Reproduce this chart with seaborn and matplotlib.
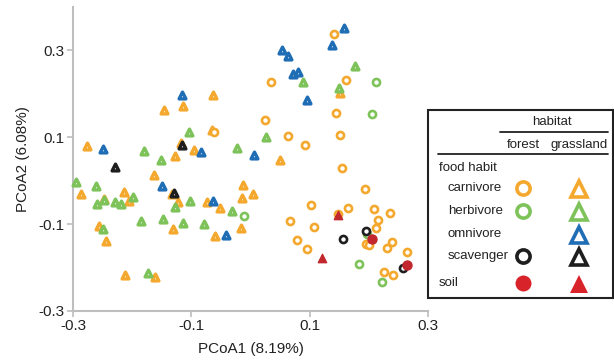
import matplotlib
matplotlib.use("Agg")
import matplotlib.pyplot as plt
import seaborn as sns
import numpy as np
from matplotlib.patches import Rectangle
from matplotlib.lines import Line2D

sns.set_style("white")
plt.rcParams['font.family'] = ['Liberation Sans', 'DejaVu Sans']

# ---------------- data ----------------
# grassland (triangles)
carn_grass_x = [-0.063, -0.146, -0.114, -0.065, -0.277, -0.118, -0.095, -0.127, -0.164, -0.287,
                -0.132, -0.013, -0.214, -0.205, -0.247, -0.122, -0.074, -0.051, -0.014, 0.004,
                -0.131, -0.256, -0.244, -0.060, -0.016, -0.212, -0.162, 0.050, 0.151]
carn_grass_y = [0.197, 0.163, 0.172, 0.116, 0.080, 0.086, 0.070, 0.057, 0.014, -0.030,
                -0.032, -0.009, -0.026, -0.047, -0.042, -0.050, -0.050, -0.063, -0.040, -0.030,
                -0.112, -0.104, -0.138, -0.128, -0.109, -0.218, -0.222, 0.048, 0.202]

herb_grass_x = [-0.104, -0.180, -0.023, -0.151, -0.295, -0.262, -0.198, -0.248, -0.259, -0.229,
                -0.219, -0.127, -0.103, -0.032, -0.185, -0.148, -0.114, -0.079, -0.249, -0.173,
                0.176, 0.089, 0.149, 0.026]
herb_grass_y = [0.112, 0.069, 0.075, 0.047, -0.003, -0.013, -0.038, -0.044, -0.053, -0.050,
                -0.053, -0.061, -0.047, -0.069, -0.093, -0.089, -0.098, -0.099, -0.112, -0.212,
                0.263, 0.226, 0.214, 0.100]

omni_grass_x = [-0.115, -0.249, -0.083, 0.006, -0.149, -0.063, -0.042, 0.158, 0.138, 0.053,
                0.063, 0.071, 0.081, 0.095]
omni_grass_y = [0.196, 0.073, 0.066, 0.059, -0.012, -0.047, -0.126, 0.351, 0.312, 0.300,
                0.286, 0.245, 0.250, 0.185]

scav_grass_x = [-0.116, -0.229, -0.129]
scav_grass_y = [0.083, 0.031, -0.029]

soil_grass_x = [0.148, 0.121]
soil_grass_y = [-0.079, -0.179]

# forest (circles)
carn_forest_x = [0.141, 0.035, 0.161, 0.145, 0.025, 0.063, 0.092, 0.152, 0.154, 0.194,
                 0.103, 0.165, 0.148, 0.209, 0.235, 0.215, 0.066, 0.108, 0.213, 0.195,
                 0.201, 0.240, 0.231, 0.078, 0.095, 0.264, 0.226, 0.241, -0.062]
carn_forest_y = [0.337, 0.226, 0.231, 0.155, 0.139, 0.102, 0.083, 0.104, 0.028, -0.020,
                 -0.057, -0.063, -0.076, -0.066, -0.075, -0.091, -0.093, -0.108, -0.110, -0.145,
                 -0.149, -0.142, -0.156, -0.137, -0.158, -0.165, -0.211, -0.218, 0.111]

herb_forest_x = [-0.011, 0.213, 0.205, 0.197, 0.184, 0.223]
herb_forest_y = [-0.081, 0.226, 0.153, -0.124, -0.191, -0.234]

scav_forest_x = [0.195, 0.156, 0.258]
scav_forest_y = [-0.115, -0.135, -0.202]

soil_forest_x = [0.205, 0.264]
soil_forest_y = [-0.135, -0.195]

food_labels = ["carnivore", "herbivore", "omnivore", "scavenger"]
habitat_labels = ["forest", "grassland"]

ORANGE = "#F4A82E"
GREEN = "#7DC35A"
BLUE = "#1F6DB5"
BLACK = "#1E1E1E"
RED = "#D9232B"
RED_DARK = "#C1272D"

# ---------------- figure ----------------
fig = plt.figure(figsize=(6.14, 3.64), dpi=100)
ax = fig.add_axes([0.119, 0.146, 0.578, 0.835])

def pts(xs, ys, marker, col, filled=False, s=26, lw=1.8):
    sns.scatterplot(x=xs, y=ys, marker=marker, s=s, color=col,
                    facecolor=(col if filled else "white"), edgecolor=col,
                    linewidth=lw, ax=ax, clip_on=False, zorder=3)

TRI_S, TRI_LW = 24, 2.4
CIR_S, CIR_LW = 26, 1.9
pts(carn_grass_x, carn_grass_y, "^", ORANGE, s=TRI_S, lw=TRI_LW)
pts(carn_forest_x, carn_forest_y, "o", ORANGE, s=CIR_S, lw=CIR_LW)
pts(herb_grass_x, herb_grass_y, "^", GREEN, s=TRI_S, lw=TRI_LW)
pts(herb_forest_x, herb_forest_y, "o", GREEN, s=CIR_S, lw=CIR_LW)
pts(omni_grass_x, omni_grass_y, "^", BLUE, s=TRI_S, lw=TRI_LW)
pts(scav_grass_x, scav_grass_y, "^", BLACK, s=TRI_S, lw=TRI_LW)
pts(scav_forest_x, scav_forest_y, "o", BLACK, s=CIR_S, lw=CIR_LW)
pts(soil_grass_x, soil_grass_y, "^", RED_DARK, filled=True, s=36, lw=1.0)
pts(soil_forest_x, soil_forest_y, "o", RED_DARK, filled=True, s=42, lw=1.0)

ax.set_xlim(-0.3, 0.3)
ax.set_ylim(-0.3, 0.4)
ticks = [-0.3, -0.1, 0.1, 0.3]
ax.set_xticks(ticks)
ax.set_yticks(ticks)
ax.set_xticklabels(["-0.3", "-0.1", "0.1", "0.3"])
ax.set_yticklabels(["-0.3", "-0.1", "0.1", "0.3"])
for side in ["top", "right"]:
    ax.spines[side].set_visible(False)
for side in ["left", "bottom"]:
    ax.spines[side].set_color("#BEBEBE")
    ax.spines[side].set_linewidth(1.5)
ax.tick_params(axis="both", which="both", direction="out", length=4, width=1.2,
               color="#BEBEBE", labelsize=11, labelcolor="#222222", pad=2,
               left=True, bottom=True)
ax.set_xlabel("PCoA1 (8.19%)", fontsize=11, color="#222222", labelpad=6)
ax.set_ylabel("PCoA2 (6.08%)", fontsize=11, color="#222222", labelpad=6)
ax.grid(False)

# ---------------- custom legend (pixel coordinates of the figure) ----------------
lax = fig.add_axes([0, 0, 1, 1], zorder=5)
lax.set_xlim(0, 614)
lax.set_ylim(364, 0)
lax.axis("off")
lax.patch.set_alpha(0)

lax.add_patch(Rectangle((428, 110), 185, 188, facecolor="white", edgecolor="#222222", lw=1.5))
fs = 9.5
lax.text(552, 122, "habitat", ha="center", va="center", fontsize=fs, color="#222222")
lax.plot([500, 608], [132, 132], color="#222222", lw=1.3)
lax.text(523, 145, habitat_labels[0], ha="center", va="center", fontsize=fs, color="#222222")
lax.text(579, 145, habitat_labels[1], ha="center", va="center", fontsize=fs, color="#222222")
lax.plot([438, 608], [154, 154], color="#222222", lw=1.3)
lax.text(439, 168, "food habit", ha="left", va="center", fontsize=fs, color="#222222")

rows_y = [188, 211, 234, 256]
row_cols = [ORANGE, GREEN, BLUE, BLACK]
has_forest = [True, True, False, True]
for lab, yy, col, hf in zip(food_labels, rows_y, row_cols, has_forest):
    lax.text(448, yy, lab, ha="left", va="center", fontsize=fs, color="#222222")
    if hf:
        lax.plot([523], [yy], marker="o", ms=9.5, mfc="white", mec=col, mew=2.6)
    lax.plot([579], [yy + 1], marker="^", ms=12, mfc="white", mec=col, mew=2.6)
lax.text(439, 283, "soil", ha="left", va="center", fontsize=fs, color="#222222")
lax.plot([523], [283], marker="o", ms=11.5, mfc=RED, mec=RED, mew=0)
lax.plot([579], [284], marker="^", ms=13, mfc=RED, mec=RED, mew=0)

fig.savefig("out.png", dpi=100)
